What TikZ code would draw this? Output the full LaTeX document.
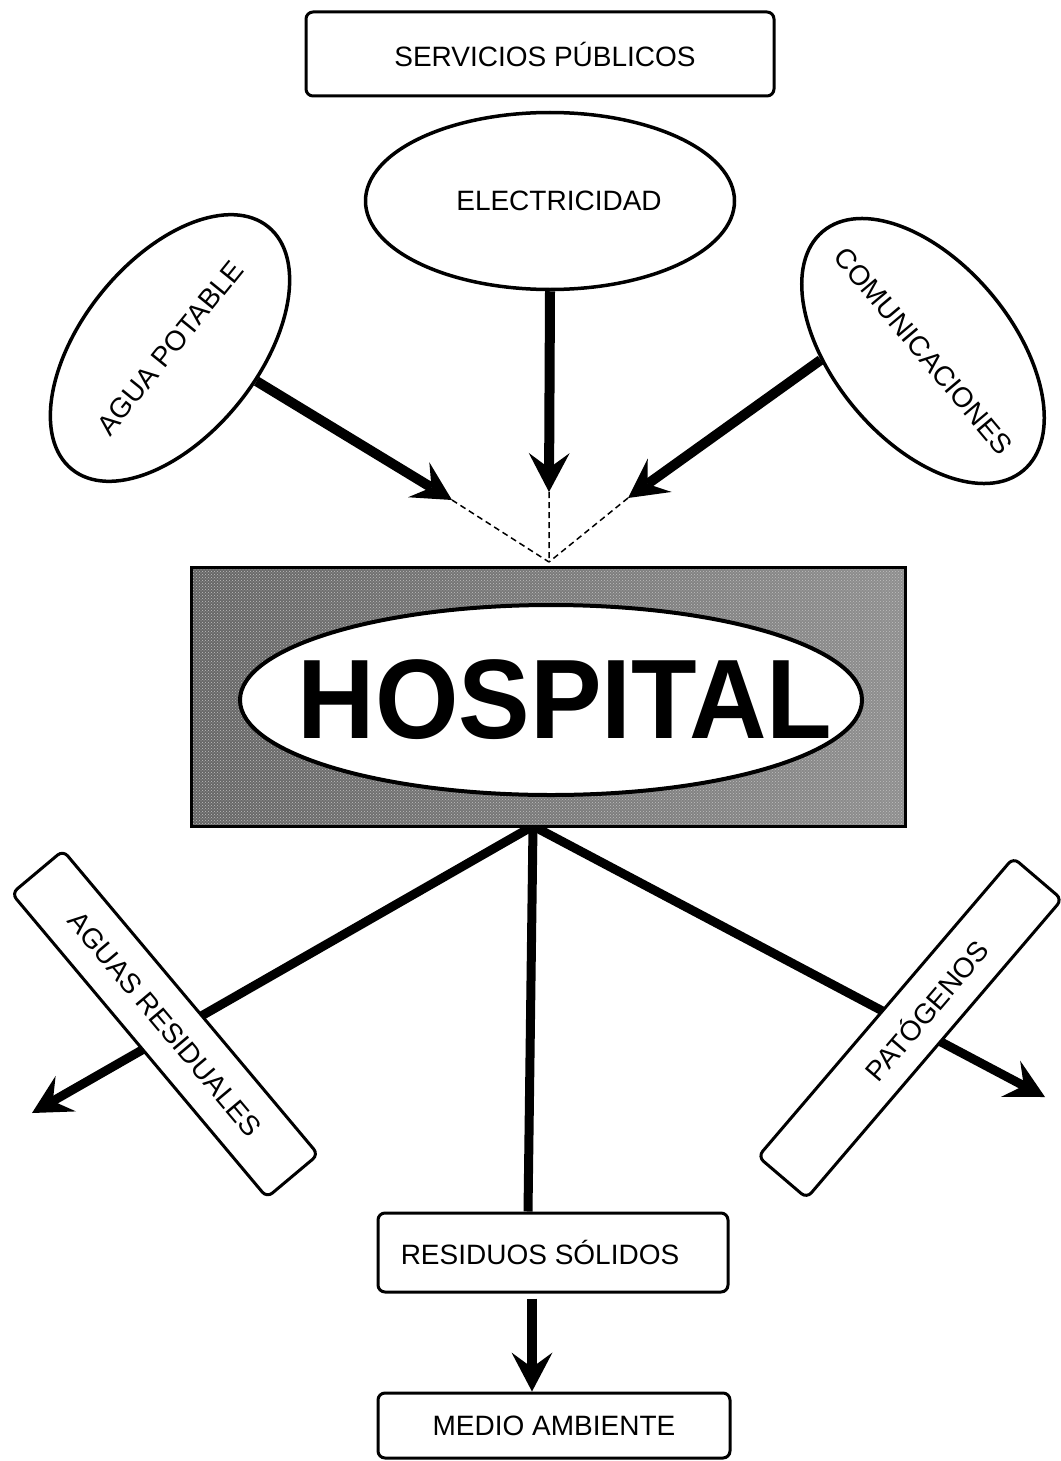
\documentclass[tikz,border=0pt]{standalone}
\usepackage{fontspec}
\setmainfont{Liberation Sans}
\usetikzlibrary{arrows.meta,shapes.geometric,patterns,backgrounds}

\begin{document}
\begin{tikzpicture}[x=1pt,y=-1pt,
  lbl/.style={font=\fontsize{28}{33}\selectfont},
  boxnode/.style={draw, line width=3pt, rounded corners=7pt, fill=white, inner sep=0pt, lbl},
  ovalnode/.style={draw, ellipse, line width=3.5pt, fill=white, inner sep=0pt, lbl},
  headtip/.style={-{Stealth[length=39pt,width=41pt,inset=15pt,line width=0pt]}},
  bigarrow/.style={line width=10pt, headtip},
  feed/.style={line width=1.5pt, dash pattern=on 6pt off 4pt},
  outflow/.style={line width=9pt},
]
\useasboundingbox (0,0) rectangle (1060,1461);

% free ends of the connectors
\coordinate (tipA) at (452,500);
\coordinate (tipE) at (549,492);
\coordinate (tipC) at (628,498);
\coordinate (meet) at (549,562);
\coordinate (hub)  at (533,826);
\coordinate (tipAR) at (32,1113);
\coordinate (tipPA) at (1045,1097);

% supply side
\node[boxnode, minimum width=468pt, minimum height=84pt] (serv) at (540,54)
  {\makebox[0pt]{\kern10pt SERVICIOS PÚBLICOS}};
\node[ovalnode, minimum width=369pt, minimum height=177pt] (elec) at (550,201)
  {\makebox[0pt]{\kern18pt ELECTRICIDAD}};
\node[ovalnode, minimum width=312pt, minimum height=176pt, rotate=51] (agua) at (170,348)
  {\makebox[0pt]{AGUA POTABLE}};
\node[ovalnode, minimum width=312pt, minimum height=178pt, rotate=-50] (comm) at (923,351)
  {\makebox[0pt]{COMUNICACIONES}};

% hospital block: shaded, stippled panel with a white oval
\node[minimum width=713pt, minimum height=258pt, inner sep=0pt,
      left color=black!60, right color=black!44] (hosp) at (548.5,697) {};
\fill[pattern=crosshatch dots, pattern color=white!75!black]
  (hosp.south west) rectangle (hosp.north east);
\draw[line width=3pt] (hosp.south west) rectangle (hosp.north east);
\node[ellipse, draw, line width=4pt, fill=white, minimum width=622pt, minimum height=190pt,
      inner sep=0pt, font=\bfseries\fontsize{113}{120}\selectfont] (hospoval) at (551,700)
  {\makebox[0pt]{\kern28pt\raisebox{-5pt}{\scalebox{0.95}[1]{HOSPITAL}}}};

% outputs
\node[boxnode, minimum width=397pt, minimum height=67pt, rotate=-50] (ares) at (165,1024)
  {\makebox[0pt]{AGUAS RESIDUALES}};
\node[boxnode, minimum width=393pt, minimum height=64pt, rotate=49.5] (pato) at (910,1028)
  {\makebox[0pt]{\kern48pt PATÓGENOS}};
\node[boxnode, minimum width=350pt, minimum height=79pt] (resid) at (553,1252.5)
  {\makebox[0pt]{RESIDUOS SÓLIDOS\kern26pt}};
\node[boxnode, minimum width=352pt, minimum height=65pt] (medio) at (554,1425.5)
  {\makebox[0pt]{MEDIO AMBIENTE}};

% inputs converging on the hospital
\draw[bigarrow] (agua.-72) -- (tipA);
\draw[bigarrow] (elec.south) -- (tipE);
\draw[bigarrow] (comm.235) -- (tipC);
\draw[feed] (tipA) -- (meet) (tipE) -- (meet) (tipC) -- (meet);

% outflows, passing behind the labelled boxes
\begin{pgfonlayer}{background}
  \draw[outflow, headtip] (hub) -- (tipAR);
  \draw[outflow, headtip] (hub) -- (tipPA);
  \draw[outflow] (hub) -- ([xshift=-25pt]resid.north);
\end{pgfonlayer}
\draw[bigarrow] ([xshift=-21pt,yshift=-5pt]resid.south) -- ([xshift=-22pt]medio.north);
\end{tikzpicture}
\end{document}
